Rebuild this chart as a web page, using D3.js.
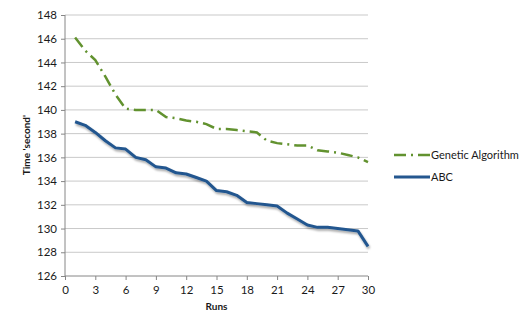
<!DOCTYPE html>
<html>
<head>
<meta charset="utf-8">
<script src="https://cdn.jsdelivr.net/npm/d3@7"></script>
<style>
  body { margin: 0; background: #fff; }
  text { font-family: Lato, "Liberation Sans", sans-serif; fill: #1a1a1a; }
  .axis path, .axis line { stroke: #868686; }
  .axis text { font-size: 11.5px; }
</style>
</head>
<body>
<svg width="519" height="314"></svg>
<script>
// runs 1..30
var runs = d3.range(1, 31);
var gaTimes = [146.1, 145.0, 144.2, 142.8, 141.3, 140.1, 140.0, 140.0, 140.0, 139.4,
               139.3, 139.1, 139.0, 138.8, 138.4, 138.4, 138.3, 138.2, 138.1, 137.4,
               137.2, 137.1, 137.0, 137.0, 136.6, 136.5, 136.4, 136.2, 136.0, 135.6];
var abcTimes = [139.0, 138.7, 138.1, 137.4, 136.8, 136.7, 136.0, 135.8, 135.2, 135.1,
                134.7, 134.6, 134.3, 134.0, 133.2, 133.1, 132.8, 132.2, 132.1, 132.0,
                131.9, 131.3, 130.8, 130.3, 130.1, 130.1, 130.0, 129.9, 129.8, 128.5];
var yTicks = d3.range(126, 149, 2);
var xTicks = d3.range(0, 31, 3);
var seriesNames = ["Genetic Algorithm", "ABC"];

var svg = d3.select("svg");

var x = d3.scaleLinear().domain([0, 30]).range([65, 368]);
var y = d3.scaleLinear().domain([126, 148]).range([276, 15]);

// ombre portée pour la courbe ABC
var defs = svg.append("defs");
var f = defs.append("filter").attr("id", "ombre")
  .attr("x", "-5%").attr("y", "-5%").attr("width", "110%").attr("height", "120%");
f.append("feDropShadow").attr("dx", 1).attr("dy", 2).attr("stdDeviation", 1.2)
  .attr("flood-color", "#000").attr("flood-opacity", 0.35);

// grille horizontale
svg.append("g")
  .selectAll("line")
  .data(yTicks.filter(function (d) { return d > 126; }))
  .enter().append("line")
    .attr("x1", x(0)).attr("x2", x(30))
    .attr("y1", function (d) { return y(d); })
    .attr("y2", function (d) { return y(d); })
    .attr("stroke", "#c9c9c9").attr("stroke-width", 1);

// axes
svg.append("g").attr("class", "axis")
  .attr("transform", "translate(" + x(0) + ",0)")
  .call(d3.axisLeft(y).tickValues(yTicks).tickSize(4).tickPadding(4))
  .call(function (g) { g.select(".domain").attr("d", "M0," + y(148) + "V" + y(126)); });

svg.append("g").attr("class", "axis")
  .attr("transform", "translate(0," + y(126) + ")")
  .call(d3.axisBottom(x).tickValues(xTicks).tickSize(4).tickPadding(6))
  .call(function (g) { g.select(".domain").attr("d", "M" + x(0) + ",0H" + x(30)); });

// lignes
var line = function (vals) {
  return d3.line()
    .x(function (d, i) { return x(runs[i]); })
    .y(function (d) { return y(d); })(vals);
};

svg.append("path")
  .attr("d", line(gaTimes))
  .attr("fill", "none")
  .attr("stroke", "#62922f")
  .attr("stroke-width", 2.5)
  .attr("stroke-dasharray", "12,5,2,5");

svg.append("path")
  .attr("d", line(abcTimes))
  .attr("fill", "none")
  .attr("stroke", "#24578f")
  .attr("stroke-width", 3)
  .attr("stroke-linejoin", "round")
  .attr("filter", "url(#ombre)");

// titres des axes
svg.append("text")
  .attr("x", x(15)).attr("y", 310)
  .attr("text-anchor", "middle")
  .style("font-size", "10px").style("font-weight", "bold")
  .text("Runs");

svg.append("text")
  .attr("transform", "translate(30,145) rotate(-90)")
  .attr("text-anchor", "middle")
  .style("font-size", "10px").style("font-weight", "bold")
  .text("Time 'second'");

// légende
var leg = svg.append("g");
leg.append("line").attr("x1", 394).attr("x2", 430).attr("y1", 155).attr("y2", 155)
  .attr("stroke", "#62922f").attr("stroke-width", 2.5).attr("stroke-dasharray", "12,5,2,5");
leg.append("text").attr("x", 431).attr("y", 159).style("font-size", "11px").text(seriesNames[0]);
leg.append("line").attr("x1", 394).attr("x2", 430).attr("y1", 177).attr("y2", 177)
  .attr("stroke", "#24578f").attr("stroke-width", 3);
leg.append("text").attr("x", 431).attr("y", 181).style("font-size", "11px").text(seriesNames[1]);
</script>
</body>
</html>
